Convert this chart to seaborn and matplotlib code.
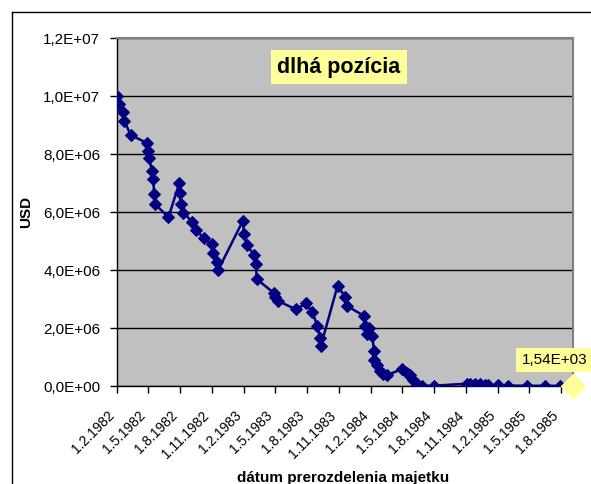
import matplotlib
matplotlib.use("Agg")
import matplotlib.pyplot as plt
import matplotlib.dates as mdates
import matplotlib.transforms as mtransforms
from matplotlib.lines import Line2D
from matplotlib.ticker import FixedLocator, FuncFormatter
import seaborn as sns
import pandas as pd

# Dates of each asset redistribution and the long-position value in USD
dates = [
    "1982-02-01", "1982-02-07", "1982-02-19", "1982-02-22", "1982-03-12",
    "1982-04-29", "1982-04-30", "1982-05-05", "1982-05-12", "1982-05-16",
    "1982-05-19", "1982-05-21", "1982-06-29", "1982-07-30", "1982-08-01",
    "1982-08-04", "1982-08-11", "1982-09-04", "1982-09-16", "1982-10-09",
    "1982-10-31", "1982-11-05", "1982-11-15", "1982-11-19", "1983-01-29",
    "1983-02-01", "1983-02-09", "1983-03-02", "1983-03-07", "1983-03-10",
    "1983-04-27", "1983-05-01", "1983-05-10", "1983-07-01", "1983-07-29",
    "1983-08-17", "1983-08-31", "1983-09-08", "1983-09-10", "1983-10-28",
    "1983-11-19", "1983-11-24", "1984-01-12", "1984-01-15", "1984-01-20",
    "1984-01-27", "1984-02-05", "1984-02-10", "1984-02-11", "1984-02-18",
    "1984-02-27", "1984-03-08", "1984-03-19", "1984-04-30", "1984-05-14",
    "1984-05-24", "1984-06-02", "1984-06-12", "1984-06-26", "1984-07-30",
    "1984-11-04", "1984-11-12", "1984-11-27", "1984-12-11", "1984-12-25",
    "1985-01-03", "1985-02-01", "1985-03-02", "1985-04-25", "1985-06-16",
    "1985-07-29", "1985-09-04",
]
values = [
    10.0e6, 9.72e6, 9.46e6, 9.15e6, 8.66e6,
    8.37e6, 8.10e6, 7.85e6, 7.42e6, 7.13e6,
    6.62e6, 6.28e6, 5.82e6, 6.99e6, 6.67e6,
    6.28e6, 5.98e6, 5.67e6, 5.38e6, 5.09e6,
    4.90e6, 4.60e6, 4.29e6, 4.00e6, 5.70e6,
    5.24e6, 4.86e6, 4.52e6, 4.21e6, 3.68e6,
    3.22e6, 3.08e6, 2.93e6, 2.64e6, 2.85e6,
    2.54e6, 2.07e6, 1.64e6, 1.38e6, 3.45e6,
    3.08e6, 2.76e6, 2.42e6, 2.08e6, 1.79e6,
    2.01e6, 1.72e6, 1.21e6, 0.90e6, 0.72e6,
    0.53e6, 0.41e6, 0.38e6, 0.58e6, 0.44e6,
    0.38e6, 0.21e6, 0.07e6, 0.01e6, 0.01e6,
    0.08e6, 0.07e6, 0.06e6, 0.06e6, 0.05e6,
    0.04e6, 0.02e6, 0.015e6, 0.01e6, 0.008e6,
    0.005e6, 1540,
]
x_tick_labels = [
    "1.2.1982", "1.5.1982", "1.8.1982", "1.11.1982", "1.2.1983",
    "1.5.1983", "1.8.1983", "1.11.1983", "1.2.1984", "1.5.1984",
    "1.8.1984", "1.11.1984", "1.2.1985", "1.5.1985", "1.8.1985",
]
y_ticks = [0, 2e6, 4e6, 6e6, 8e6, 10e6, 12e6]
title_text = "dlhá pozícia"
x_title = "dátum prerozdelenia majetku"
y_title = "USD"
end_label = "1,54E+03"

plt.rcParams["font.family"] = ["Liberation Sans", "DejaVu Sans"]
plt.rcParams["font.size"] = 11

df = pd.DataFrame({"date": pd.to_datetime(dates), "value": values})

fig = plt.figure(figsize=(5.91, 4.84), dpi=100)
ax = fig.add_axes([117 / 591, 1 - 386 / 484, (573 - 117) / 591, (386 - 38) / 484])
ax.set_facecolor("#C0C0C0")

sns.lineplot(data=df.iloc[:-1], x="date", y="value", ax=ax, color="#000080",
             linewidth=1.8, marker="D", markersize=6.5, markeredgecolor="#000080",
             estimator=None, sort=False, zorder=3)
# segment into the final point and its highlighted marker
last = df.iloc[-2:]
ax.plot(last["date"], last["value"], color="#000080", linewidth=1.8, zorder=3)
ax.plot(df["date"].iloc[-1], df["value"].iloc[-1], marker="D", markersize=12,
        color="#FFFF99", markeredgecolor="#FFFF99", clip_on=False, zorder=4)

ax.set_xlim(df["date"].iloc[0], df["date"].iloc[-1])
ax.set_ylim(0, 12e6)

tick_dates = [pd.to_datetime(s, format="%d.%m.%Y") for s in x_tick_labels]
ax.xaxis.set_major_locator(FixedLocator(mdates.date2num(tick_dates)))
ax.set_xticklabels(x_tick_labels, rotation=45, ha="right")
ax.yaxis.set_major_locator(FixedLocator(y_ticks))
ax.yaxis.set_major_formatter(FuncFormatter(lambda v, p: f"{v:.1E}".replace(".", ",")))

offset = mtransforms.ScaledTranslation(-3.5 / 72, 0, fig.dpi_scale_trans)
for lab in ax.get_xticklabels():
    lab.set_transform(lab.get_transform() + offset)

ax.tick_params(axis="both", direction="out", length=5, width=1, color="black",
               labelcolor="black")
ax.tick_params(axis="x", pad=11, labelsize=10)
ax.tick_params(axis="y", pad=7, labelsize=11)

ax.grid(axis="y", color="black", linewidth=1, zorder=1)
ax.grid(axis="x", visible=False)
ax.set_axisbelow(True)
for side in ("top", "right"):
    ax.spines[side].set_color("#808080")
    ax.spines[side].set_linewidth(1.5)
for side in ("left", "bottom"):
    ax.spines[side].set_color("black")
    ax.spines[side].set_linewidth(1)

ax.set_xlabel("")
ax.set_ylabel("")
fig.text(343 / 591, 1 - 478 / 484, x_title, ha="center", va="center",
         fontsize=11, fontweight="bold")
fig.text(26 / 591, 1 - 212 / 484, y_title, ha="center", va="center",
         rotation=90, fontsize=11, fontweight="bold")

fig.text(339 / 591, 1 - 67 / 484, title_text, ha="center", va="center",
         fontsize=15.5, fontweight="bold",
         bbox=dict(boxstyle="square,pad=0.3", facecolor="#FFFF99", edgecolor="none"))

ax.annotate(end_label, xy=(df["date"].iloc[-1], df["value"].iloc[-1]),
            xytext=(-13.3, 18.7), textcoords="offset points", ha="center", va="center",
            fontsize=11, annotation_clip=False,
            bbox=dict(boxstyle="square,pad=0.35", facecolor="#FFFF99", edgecolor="none"))

# outer chart frame
fig.add_artist(Line2D([12 / 591, 12 / 591], [0, 1 - 12 / 484], color="black",
                      linewidth=1, transform=fig.transFigure))
fig.add_artist(Line2D([12 / 591, 1], [1 - 12 / 484, 1 - 12 / 484], color="black",
                      linewidth=1, transform=fig.transFigure))

fig.savefig("out.png", dpi=100)
